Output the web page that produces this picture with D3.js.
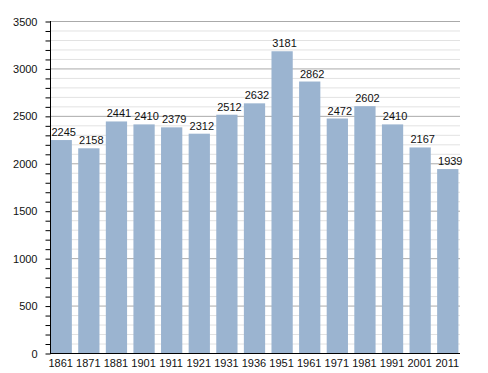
<!DOCTYPE html>
<html>
<head>
<meta charset="utf-8">
<script src="https://cdn.jsdelivr.net/npm/d3@7"></script>
<style>
  body { margin: 0; background: #fff; }
  text { font-family: "Liberation Sans", Arial, sans-serif; fill: #111; }
</style>
</head>
<body>
<main></main>
<script>
const years = ["1861", "1871", "1881", "1901", "1911", "1921", "1931", "1936", "1951", "1961", "1971", "1981", "1991", "2001", "2011"];
const population = [2245, 2158, 2441, 2410, 2379, 2312, 2512, 2632, 3181, 2862, 2472, 2602, 2410, 2167, 1939];
const yTicks = [0, 500, 1000, 1500, 2000, 2500, 3000, 3500];

const width = 488;
const height = 373;
const plotLeft = 50, plotRight = 460, plotTop = 21, plotBottom = 353;

const svg = d3.select("main")
    .append("svg")
    .attr("width", width)
    .attr("height", height);

const xScale = d3.scaleBand()
    .domain(years)
    .range([plotLeft, plotRight])
    .paddingInner(0.23)
    .paddingOuter(0.04);

const yScale = d3.scaleLinear()
    .domain([0, 3500])
    .range([plotBottom, plotTop]);

// minor gridlines
const minor = d3.range(100, 3500, 100).filter(d => d % 500 !== 0);
svg.append("g")
    .selectAll("line")
    .data(minor)
    .enter()
    .append("line")
    .attr("x1", plotLeft)
    .attr("x2", plotRight)
    .attr("y1", d => yScale(d) + 0.5)
    .attr("y2", d => yScale(d) + 0.5)
    .attr("stroke", "#e2e2e2");

// major gridlines
svg.append("g")
    .selectAll("line")
    .data(yTicks.slice(1))
    .enter()
    .append("line")
    .attr("x1", plotLeft)
    .attr("x2", plotRight)
    .attr("y1", d => yScale(d) + 0.5)
    .attr("y2", d => yScale(d) + 0.5)
    .attr("stroke", "#aaaaaa");

// bars
svg.selectAll(".bar")
    .data(years)
    .enter()
    .append("rect")
    .attr("class", "bar")
    .attr("x", d => xScale(d) - 0.5)
    .attr("y", (d, i) => yScale(population[i]))
    .attr("width", xScale.bandwidth())
    .attr("height", (d, i) => plotBottom - yScale(population[i]))
    .attr("fill", "#9bb4d0");

// value labels
svg.selectAll(".val")
    .data(years)
    .enter()
    .append("text")
    .attr("class", "val")
    .attr("x", d => xScale(d) + xScale.bandwidth() / 2 + 2)
    .attr("y", (d, i) => yScale(population[i]) - 4)
    .attr("text-anchor", "middle")
    .style("font-size", "11px")
    .text((d, i) => population[i]);

// y axis with minor ticks
const yAxis = d3.axisLeft(yScale)
    .tickValues(d3.range(0, 3501, 100))
    .tickSize(5)
    .tickFormat(d => yTicks.includes(d) ? d : "");

svg.append("g")
    .attr("transform", `translate(${plotLeft + 0.5}, 0.5)`)
    .call(yAxis)
    .call(g => g.select(".domain").remove())
    .call(g => g.selectAll("text").attr("x", -13).style("font-size", "11px").attr("font-family", null));

svg.append("line")
    .attr("x1", plotLeft + 0.5).attr("x2", plotLeft + 0.5)
    .attr("y1", plotTop).attr("y2", plotBottom + 1)
    .attr("stroke", "#000");

// x axis
svg.append("line")
    .attr("x1", plotLeft).attr("x2", plotRight)
    .attr("y1", plotBottom + 0.5).attr("y2", plotBottom + 0.5)
    .attr("stroke", "#000");

svg.append("g")
    .selectAll("text")
    .data(years)
    .enter()
    .append("text")
    .attr("x", d => xScale(d) + xScale.bandwidth() / 2 - 1)
    .attr("y", plotBottom + 14)
    .attr("text-anchor", "middle")
    .style("font-size", "11px")
    .text(d => d);
</script>
</body>
</html>
